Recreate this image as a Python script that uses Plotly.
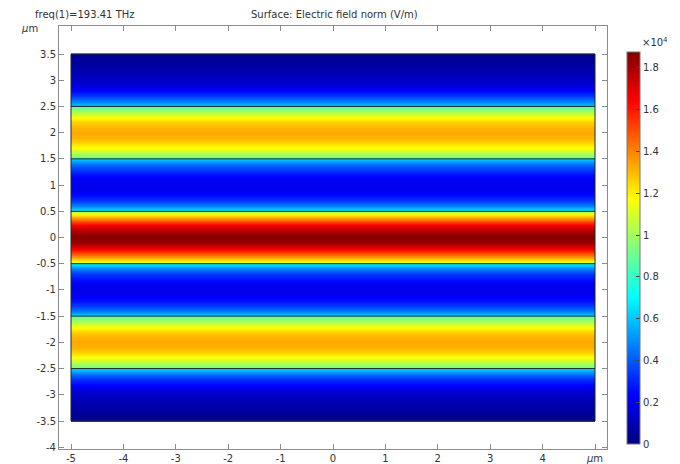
import plotly.graph_objects as go

# Field profile across y (µm), field norm in units of 1e4 V/m (constant along x)
y_pos = [-3.5, -3.49, -3.25, -3.0, -2.9, -2.8, -2.7, -2.6, -2.501, -2.499, -2.4, -2.3, -2.2, -2.1,
         -2.0, -1.9, -1.8, -1.7, -1.6, -1.501, -1.499, -1.4, -1.3, -1.2, -1.1, -1.0, -0.9, -0.8,
         -0.7, -0.6, -0.501, -0.499, -0.4, -0.3, -0.2, -0.1, 0.0,
         0.1, 0.2, 0.3, 0.4, 0.499, 0.501, 0.6, 0.7, 0.8, 0.9, 1.0, 1.1, 1.2, 1.3, 1.4, 1.499,
         1.501, 1.6, 1.7, 1.8, 1.9, 2.0, 2.1, 2.2, 2.3, 2.4, 2.499, 2.501, 2.6, 2.7, 2.8, 2.9,
         3.0, 3.25, 3.49, 3.5]
e_norm = [0.03, 0.03, 0.07, 0.13, 0.17, 0.24, 0.33, 0.46, 0.62, 0.88, 1.02, 1.15, 1.25, 1.31,
          1.33, 1.31, 1.25, 1.15, 1.02, 0.86, 0.62, 0.45, 0.34, 0.26, 0.22, 0.20, 0.21, 0.26,
          0.34, 0.47, 0.68, 1.05, 1.30, 1.52, 1.70, 1.82, 1.87,
          1.82, 1.70, 1.52, 1.30, 1.05, 0.68, 0.47, 0.34, 0.26, 0.21, 0.20, 0.22, 0.26, 0.34, 0.45, 0.62,
          0.86, 1.02, 1.15, 1.25, 1.31, 1.33, 1.31, 1.25, 1.15, 1.02, 0.88, 0.62, 0.46, 0.33, 0.24, 0.17,
          0.13, 0.07, 0.03, 0.03]
x_edges = [-5, 0, 5]
interfaces = [-2.5, -1.5, -0.5, 0.5, 1.5, 2.5]
outer_y = [-3.5, 3.5]
outer_x = [-5, 5]
cmax = 1.876
cbar_ticks = [0, 0.2, 0.4, 0.6, 0.8, 1.0, 1.2, 1.4, 1.6, 1.8]
cbar_text = ["0", "0.2", "0.4", "0.6", "0.8", "1", "1.2", "1.4", "1.6", "1.8"]
x_ticks = [-5, -4, -3, -2, -1, 0, 1, 2, 3, 4, 5]
x_text = ["-5", "-4", "-3", "-2", "-1", "0", "1", "2", "3", "4", "<i>μ</i>m"]
y_ticks = [-4, -3.5, -3, -2.5, -2, -1.5, -1, -0.5, 0, 0.5, 1, 1.5, 2, 2.5, 3, 3.5]
y_text = ["-4", "-3.5", "-3", "-2.5", "-2", "-1.5", "-1", "-0.5", "0", "0.5", "1", "1.5", "2",
          "2.5", "3", "3.5"]

jet = [[0, "rgb(0,0,128)"], [0.125, "rgb(0,0,255)"], [0.375, "rgb(0,255,255)"],
       [0.625, "rgb(255,255,0)"], [0.875, "rgb(255,0,0)"], [1, "rgb(128,0,0)"]]

W, H = 680, 464
L, R, T, B = 59, 607, 26, 449
PW, PH = R - L, B - T
font = "DejaVu Sans"
txt = "#333333"
frame = "#8c8c8c"

fig = go.Figure()
fig.add_trace(go.Heatmap(
    x=x_edges, y=y_pos, z=[[v, v] for v in e_norm],
    colorscale=jet, zmin=0, zmax=cmax, zsmooth="best",
    colorbar=dict(
        x=(627 - L) / PW, xanchor="left", y=(B - 52) / PH, yanchor="top",
        len=392 / PH, lenmode="fraction", thickness=13, thicknessmode="pixels",
        xpad=0, ypad=0, outlinewidth=1, outlinecolor="#777777",
        tickmode="array", tickvals=cbar_ticks, ticktext=cbar_text,
        ticks="inside", ticklen=4, tickcolor="#444444",
        tickfont=dict(family=font, size=10, color=txt),
    ),
    hoverinfo="skip",
))

# interface lines and domain outline
lx, ly = [], []
for yv in interfaces + outer_y:
    lx += [outer_x[0], outer_x[1], None]
    ly += [yv, yv, None]
for xv in outer_x:
    lx += [xv, xv, None]
    ly += [outer_y[0], outer_y[1], None]
fig.add_trace(go.Scatter(x=lx, y=ly, mode="lines", line=dict(color="#1a2a2a", width=1),
                         hoverinfo="skip", showlegend=False))

axis_common = dict(showline=True, mirror="ticks", linecolor=frame, linewidth=1,
                   ticks="inside", ticklen=5, tickcolor=frame, showgrid=False, zeroline=False,
                   tickfont=dict(family=font, size=10, color=txt), automargin=False)
fig.update_layout(
    width=W, height=H,
    margin=dict(l=L, r=W - R, t=T, b=H - B),
    paper_bgcolor="white", plot_bgcolor="white",
    xaxis=dict(range=[-5.229, 5.229], tickmode="array", tickvals=x_ticks, ticktext=x_text,
               **axis_common),
    yaxis=dict(range=[-4.034, 4.034], tickmode="array", tickvals=y_ticks, ticktext=y_text,
               **axis_common),
    showlegend=False,
    annotations=[
        dict(text="freq(1)=193.41 THz", xref="paper", yref="paper", x=-0.047, y=1.0,
             xanchor="left", yanchor="bottom", yshift=4, showarrow=False,
             font=dict(family=font, size=10, color=txt)),
        dict(text="Surface: Electric field norm (V/m)", xref="paper", yref="paper", x=0.503, y=1.0,
             xanchor="center", yanchor="bottom", yshift=4, showarrow=False,
             font=dict(family=font, size=10, color=txt)),
        dict(text="<i>μ</i>m", xref="paper", yref="paper", x=-0.053, y=0.993,
             xanchor="center", yanchor="middle", showarrow=False,
             font=dict(family=font, size=10, color=txt)),
        dict(text="×10<sup>4</sup>", xref="paper", yref="paper", x=1.06, y=0.963,
             xanchor="left", yanchor="middle", showarrow=False,
             font=dict(family=font, size=10, color=txt)),
    ],
)

fig.write_html("out.html")
